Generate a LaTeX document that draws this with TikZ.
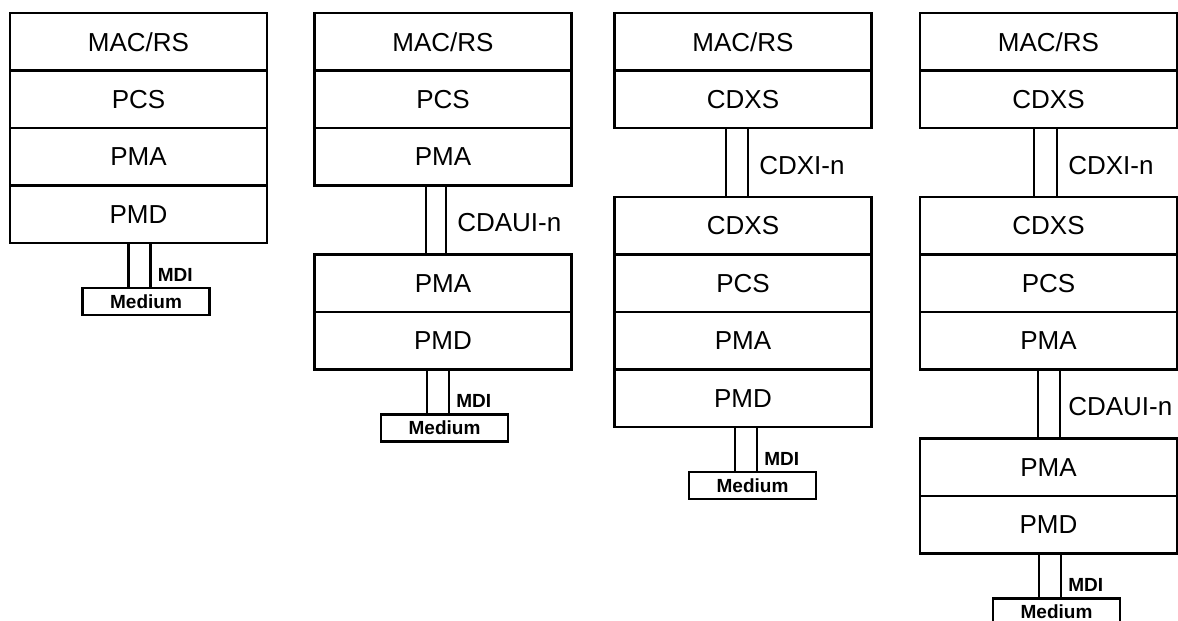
\documentclass[tikz,border=0pt]{standalone}
\usepackage{fontspec}
\setmainfont{Liberation Sans}
\usetikzlibrary{positioning}

\begin{document}
\begin{tikzpicture}[
		x=0.5pt, y=-0.5pt,
		layer/.style={draw, line width=1.3pt, minimum width=128.5pt, minimum height=28.75pt,
			inner sep=0pt, outer sep=0pt, font=\fontsize{13}{15}\selectfont},
		medium/.style={draw, line width=1.3pt, minimum width=63.5pt, minimum height=13.5pt,
			inner sep=0pt, outer sep=0pt, font=\fontsize{9.5}{11}\selectfont\bfseries},
		wire/.style={line width=1.3pt},
		lab/.style={midway, right=5pt, yshift=-1.5pt, inner sep=0pt, font=\fontsize{13}{15}\selectfont},
		mdi/.style={at end, anchor=base west, xshift=3pt, yshift=3.5pt, inner sep=0pt,
			font=\fontsize{9.5}{11}\selectfont\bfseries}
		]
		
		% Page frame
		\useasboundingbox (0,0) rectangle (1178,621);
		\clip (0,0) rectangle (1178,621);
		
		% Stack 1
		\node[layer, anchor=north] (mac1) at (138.5,13) {MAC/RS};
		\node[layer, below=0pt of mac1] (pcs1) {PCS};
		\node[layer, below=0pt of pcs1] (pma1) {PMA};
		\node[layer, below=0pt of pma1] (pmd1) {PMD};
		\node[medium, below=22.5pt of pmd1, xshift=3.75pt] (med1) {Medium};
		\draw[wire] ([xshift=-8.75pt]med1.north |- pmd1.south) -- ([xshift=-8.75pt]med1.north);
		\draw[wire] ([xshift=2.25pt]med1.north |- pmd1.south) -- ([xshift=2.25pt]med1.north)
		node[mdi] (mdi1) {MDI};
		
		% Stack 2
		\node[layer, anchor=north] (mac2) at (443,13) {MAC/RS};
		\node[layer, below=0pt of mac2] (pcs2) {PCS};
		\node[layer, below=0pt of pcs2] (pma2) {PMA};
		\node[layer, below=34.5pt of pma2] (pmb2) {PMA};
		\node[layer, below=0pt of pmb2] (pmd2) {PMD};
		\draw[wire] ([xshift=-8.5pt]pma2.south) -- ([xshift=-8.5pt]pmb2.north);
		\draw[wire] ([xshift=1.5pt]pma2.south) -- ([xshift=1.5pt]pmb2.north)
		node[lab] (cdaui2) {CDAUI-n};
		\node[medium, below=22.5pt of pmd2, xshift=0.75pt] (med2) {Medium};
		\draw[wire] ([xshift=-8.75pt]med2.north |- pmd2.south) -- ([xshift=-8.75pt]med2.north);
		\draw[wire] ([xshift=2.25pt]med2.north |- pmd2.south) -- ([xshift=2.25pt]med2.north)
		node[mdi] (mdi2) {MDI};
		
		% Stack 3
		\node[layer, anchor=north] (mac3) at (743,13) {MAC/RS};
		\node[layer, below=0pt of mac3] (cdx3) {CDXS};
		\node[layer, below=34.5pt of cdx3] (cdy3) {CDXS};
		\node[layer, below=0pt of cdy3] (pcs3) {PCS};
		\node[layer, below=0pt of pcs3] (pma3) {PMA};
		\node[layer, below=0pt of pma3] (pmd3) {PMD};
		\draw[wire] ([xshift=-8.5pt]cdx3.south) -- ([xshift=-8.5pt]cdy3.north);
		\draw[wire] ([xshift=2.5pt]cdx3.south) -- ([xshift=2.5pt]cdy3.north)
		node[lab] (cdxi3) {CDXI-n};
		\node[medium, below=22.5pt of pmd3, xshift=4.75pt] (med3) {Medium};
		\draw[wire] ([xshift=-8.75pt]med3.north |- pmd3.south) -- ([xshift=-8.75pt]med3.north);
		\draw[wire] ([xshift=2.25pt]med3.north |- pmd3.south) -- ([xshift=2.25pt]med3.north)
		node[mdi] (mdi3) {MDI};
		
		% Stack 4
		\node[layer, anchor=north] (mac4) at (1048.5,13) {MAC/RS};
		\node[layer, below=0pt of mac4] (cdx4) {CDXS};
		\node[layer, below=34.5pt of cdx4] (cdy4) {CDXS};
		\node[layer, below=0pt of cdy4] (pcs4) {PCS};
		\node[layer, below=0pt of pcs4] (pma4) {PMA};
		\node[layer, below=34.5pt of pma4] (pmb4) {PMA};
		\node[layer, below=0pt of pmb4] (pmd4) {PMD};
		\draw[wire] ([xshift=-7.25pt]cdx4.south) -- ([xshift=-7.25pt]cdy4.north);
		\draw[wire] ([xshift=4.25pt]cdx4.south) -- ([xshift=4.25pt]cdy4.north)
		node[lab] (cdxi4) {CDXI-n};
		\draw[wire] ([xshift=-5.25pt]pma4.south) -- ([xshift=-5.25pt]pmb4.north);
		\draw[wire] ([xshift=5.75pt]pma4.south) -- ([xshift=5.75pt]pmb4.north)
		node[lab, right=3.5pt] (cdaui4) {CDAUI-n};
		\node[medium, below=22.5pt of pmd4, xshift=4pt] (med4) {Medium};
		\draw[wire] ([xshift=-8.75pt]med4.north |- pmd4.south) -- ([xshift=-8.75pt]med4.north);
		\draw[wire] ([xshift=2.25pt]med4.north |- pmd4.south) -- ([xshift=2.25pt]med4.north)
		node[mdi] (mdi4) {MDI};
		
	\end{tikzpicture}
\end{document}
